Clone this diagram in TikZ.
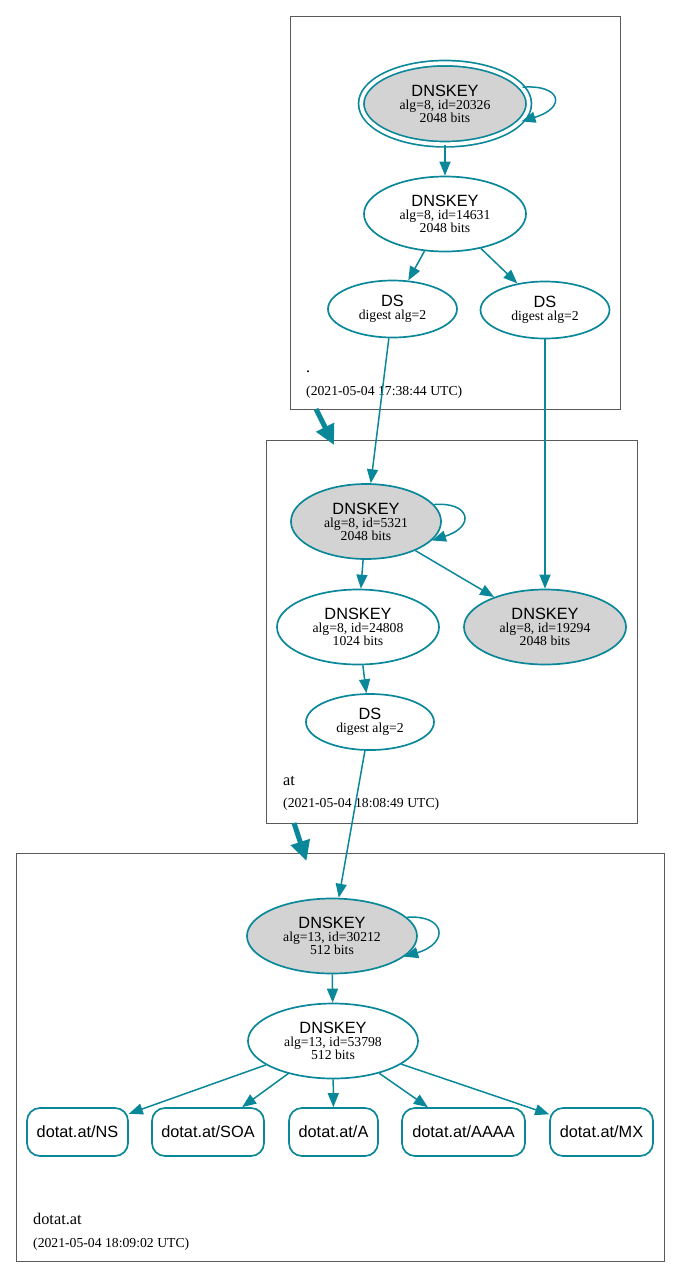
\documentclass[tikz,border=0pt]{standalone}
\usepackage{fontspec}
\setmainfont{Liberation Serif}
\setsansfont{Liberation Sans}
\usetikzlibrary{shapes.geometric,arrows.meta}
\definecolor{dnsteal}{RGB}{10,136,153}
\definecolor{keygray}{RGB}{211,211,211}
\definecolor{clusterline}{RGB}{90,90,90}
\tikzset{
  keynode/.style={ellipse, draw=dnsteal, line width=1.7pt, inner sep=0pt,
    minimum width=162pt, minimum height=75pt, align=center,
    font=\fontsize{13.7}{13}\selectfont},
  sepnode/.style={keynode, fill=keygray},
  dsnode/.style={keynode, minimum width=129pt, minimum height=57pt},
  rrnode/.style={rectangle, rounded corners=13pt, draw=dnsteal, line width=1.7pt,
    minimum height=48pt, inner sep=0pt, font=\sffamily\fontsize{16.3}{18}\selectfont},
  edge/.style={draw=dnsteal, line width=1.5pt, -{Triangle[length=14pt,width=11pt]}},
  zoneedge/.style={draw=dnsteal, line width=5pt, -{Triangle[length=20pt,width=19pt]}},
  cluster/.style={draw=clusterline, line width=0.9pt},
  zonelabel/.style={anchor=base west, inner sep=0pt, font=\fontsize{16.3}{18}\selectfont},
  datelabel/.style={anchor=base west, inner sep=0pt, font=\fontsize{13.7}{16}\selectfont},
}
\newcommand{\dnskeyhead}{{\sffamily\fontsize{16.3}{13}\selectfont DNSKEY}}
\newcommand{\dshead}{{\sffamily\fontsize{16.3}{13}\selectfont DS}}
\begin{document}
\begin{tikzpicture}[x=1pt,y=-1pt]
\useasboundingbox (0,0) rectangle (680,1278);
% clusters
\draw[cluster] (290,16) rectangle (620,409);
\draw[cluster] (266,440) rectangle (637,823);
\draw[cluster] (16,853) rectangle (664,1261);
% root zone
\node[sepnode, double=white, double distance=3.7pt, minimum width=167.5pt, minimum height=81pt] (k20326) at (445,103.7) {\dnskeyhead\\alg=8, id=20326\\2048 bits};
\node[keynode] (k14631) at (445,214) {\dnskeyhead\\alg=8, id=14631\\2048 bits};
\node[dsnode] (dsroot1) at (392.5,309) {\dshead\\digest alg=2};
\node[dsnode] (dsroot2) at (545,310) {\dshead\\digest alg=2};
\node[zonelabel] (lroot) at (306,372) {.};
\node[datelabel] (droot) at (306,395) {(2021-05-04 17:38:44 UTC)};
% at zone
\node[sepnode, minimum width=150pt] (k5321) at (366,521.5) {\dnskeyhead\\alg=8, id=5321\\2048 bits};
\node[keynode] (k24808) at (358,627) {\dnskeyhead\\alg=8, id=24808\\1024 bits};
\node[sepnode] (k19294) at (545,627) {\dnskeyhead\\alg=8, id=19294\\2048 bits};
\node[dsnode, minimum width=128pt, minimum height=56pt] (dsat) at (370,722) {\dshead\\digest alg=2};
\node[zonelabel] (lat) at (283,785) {at};
\node[datelabel] (dat) at (283,807) {(2021-05-04 18:08:49 UTC)};
% dotat.at zone
\node[sepnode, minimum width=170pt] (k30212) at (332,936) {\dnskeyhead\\alg=13, id=30212\\512 bits};
\node[keynode, minimum width=170pt] (k53798) at (333,1041) {\dnskeyhead\\alg=13, id=53798\\512 bits};
\node[rrnode, minimum width=101pt] (rrns) at (77.5,1132) {dotat.at/NS};
\node[rrnode, minimum width=112pt] (rrsoa) at (208,1132) {dotat.at/SOA};
\node[rrnode, minimum width=89pt] (rra) at (333.5,1132) {dotat.at/A};
\node[rrnode, minimum width=123pt] (rraaaa) at (463.5,1132) {dotat.at/AAAA};
\node[rrnode, minimum width=103pt] (rrmx) at (601.5,1132) {dotat.at/MX};
\node[zonelabel] (ldotat) at (33,1224) {dotat.at};
\node[datelabel] (ddotat) at (33,1247) {(2021-05-04 18:09:02 UTC)};
% edges
\draw[edge] (k20326) -- (k14631);
\draw[edge] (k20326.12) .. controls +(38pt,3pt) and +(46pt,14pt) .. (k20326.-13);
\draw[edge] (k14631) -- (dsroot1);
\draw[edge] (k14631) -- (dsroot2);
\draw[edge] (dsroot1) -- (k5321);
\draw[edge] (dsroot2) -- (k19294);
\draw[edge] (k5321.14) .. controls +(36pt,3pt) and +(44pt,14pt) .. (k5321.-16);
\draw[edge] (k5321) -- (k24808);
\draw[edge] (k5321) -- (k19294);
\draw[edge] (k24808) -- (dsat);
\draw[edge] (dsat) -- (k30212);
\draw[edge] (k30212.14) .. controls +(38pt,3pt) and +(46pt,14pt) .. (k30212.-16);
\draw[edge] (k30212) -- (k53798);
\draw[edge] (k53798) -- (rrns);
\draw[edge] (k53798) -- (rrsoa);
\draw[edge] (k53798) -- (rra);
\draw[edge] (k53798) -- (rraaaa);
\draw[edge] (k53798) -- (rrmx);
% delegation arrows
\coordinate (rootout) at (316,409);
\coordinate (atin) at (334,445);
\coordinate (atout) at (294,823);
\coordinate (dotatin) at (306.5,861);
\draw[zoneedge] (rootout) -- (atin);
\draw[zoneedge] (atout) -- (dotatin);
\end{tikzpicture}
\end{document}
